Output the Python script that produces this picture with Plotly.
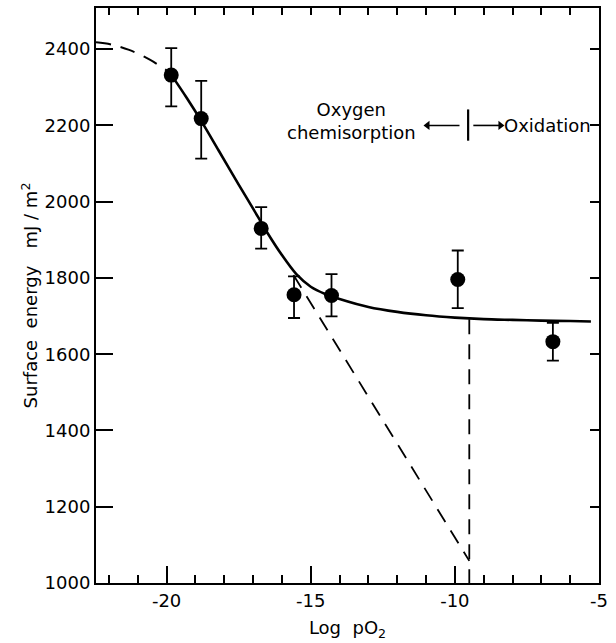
import plotly.graph_objects as go

# measured points
pt_x = [-19.84, -18.8, -16.72, -15.58, -14.28, -9.9, -6.6]
pt_y = [2332, 2218, 1930, 1756, 1754, 1796, 1633]
err_hi = [2403, 2317, 1986, 1804, 1810, 1872, 1682]
err_lo = [2250, 2113, 1877, 1695, 1699, 1721, 1583]

# fitted curve (solid)
fit_x = [-19.83, -19.3, -18.8, -18.2, -17.5, -17.0, -16.5, -16.0, -15.5, -15.0,
         -14.5, -14.0, -13.0, -12.0, -11.0, -10.0, -9.0, -8.0, -7.0, -6.0, -5.28]
fit_y = [2332, 2272, 2212, 2135, 2045, 1982, 1918, 1860, 1810, 1777,
         1758, 1745, 1724, 1711, 1702, 1696, 1692, 1690, 1688, 1687, 1686]

# extrapolated low-pressure part (dashed)
ext_x = [-22.45, -21.9, -21.3, -20.6, -20.0, -19.83]
ext_y = [2418, 2412, 2398, 2373, 2344, 2332]

# tangent extrapolation (dashed)
tan_x = [-15.6, -9.5]
tan_y = [1808, 1058]

# boundary chemisorption / oxidation
bnd_x = [-9.5, -9.5]
bnd_y = [1692, 1000]

# arrows in the annotation
arrow_y = 2200
left_arrow_x = [-9.84, -10.95]
right_arrow_x = [-9.36, -8.42]
bar_x = -9.54
bar_y = [2160, 2242]

x_range = [-22.45, -5]
y_range = [1000, 2508]
y_ticks = [1000, 1200, 1400, 1600, 1800, 2000, 2200, 2400]
x_ticks = [-20, -15, -10, -5]
x_ticktext = ["-20", "-15", "-10", "-5"]

FONT = "DejaVu Sans"
dash = "15px,10px"

fig = go.Figure()
fig.add_trace(go.Scatter(x=ext_x, y=ext_y, mode="lines",
                         line=dict(color="black", width=2, dash=dash, shape="spline")))
fig.add_trace(go.Scatter(x=fit_x, y=fit_y, mode="lines",
                         line=dict(color="black", width=2.6, shape="spline", smoothing=0.8)))
fig.add_trace(go.Scatter(x=tan_x, y=tan_y, mode="lines",
                         line=dict(color="black", width=1.8, dash=dash)))
fig.add_trace(go.Scatter(x=bnd_x, y=bnd_y, mode="lines",
                         line=dict(color="black", width=1.8, dash=dash)))
fig.add_trace(go.Scatter(
    x=pt_x, y=pt_y, mode="markers",
    marker=dict(color="black", size=15),
    error_y=dict(type="data", symmetric=False,
                 array=[h - y for h, y in zip(err_hi, pt_y)],
                 arrayminus=[y - l for y, l in zip(pt_y, err_lo)],
                 color="black", thickness=1.8, width=6)))
# arrows
fig.add_trace(go.Scatter(x=left_arrow_x, y=[arrow_y] * 2, mode="lines",
                         line=dict(color="black", width=1.6)))
fig.add_trace(go.Scatter(x=right_arrow_x, y=[arrow_y] * 2, mode="lines",
                         line=dict(color="black", width=1.6)))
fig.add_trace(go.Scatter(x=[left_arrow_x[1], right_arrow_x[1]], y=[arrow_y] * 2, mode="markers",
                         marker=dict(color="black", size=8,
                                     symbol=["triangle-left", "triangle-right"])))
fig.add_trace(go.Scatter(x=[bar_x, bar_x], y=bar_y, mode="lines",
                         line=dict(color="black", width=2.2)))
fig.add_trace(go.Scatter(x=[], y=[], xaxis="x2", yaxis="y2", mode="markers"))

fig.update_layout(
    width=616, height=643,
    margin=dict(l=96, r=13, t=8, b=60),
    paper_bgcolor="white", plot_bgcolor="white",
    showlegend=False,
    font=dict(family=FONT, size=18, color="black"),
    xaxis=dict(range=x_range, tickvals=x_ticks, ticktext=x_ticktext,
               ticks="inside", ticklen=17, tickwidth=1.8, tickcolor="black",
               minor=dict(ticks="inside", ticklen=8, dtick=1, tick0=0, tickwidth=1.8, tickcolor="black"),
               showline=True, linecolor="black", linewidth=2, showgrid=False, zeroline=False,
               title=dict(text="Log  pO<sub>2</sub>", standoff=12, font=dict(size=18)),
               tickfont=dict(size=18)),
    yaxis=dict(range=y_range, tickvals=y_ticks,
               ticks="inside", ticklen=17, tickwidth=1.8, tickcolor="black",
               showline=True, linecolor="black", linewidth=2, showgrid=False, zeroline=False,
               title=dict(text="Surface  energy   mJ / m<sup>2</sup>", standoff=2, font=dict(size=18)),
               tickfont=dict(size=18)),
    xaxis2=dict(range=x_range, overlaying="x", side="top", showticklabels=False,
                tickmode="linear", tick0=0, dtick=1, ticks="inside", ticklen=7, tickwidth=1.8,
                tickcolor="black", showline=True, linecolor="black", linewidth=2,
                showgrid=False, zeroline=False),
    yaxis2=dict(range=y_range, overlaying="y", side="right", showticklabels=False,
                tickvals=y_ticks, ticks="inside", ticklen=9, tickwidth=1.8,
                tickcolor="black", showline=True, linecolor="black", linewidth=2,
                showgrid=False, zeroline=False),
)

fig.add_annotation(x=-13.6, y=2212, text="Oxygen<br>chemisorption", showarrow=False,
                   font=dict(size=18), align="center")
fig.add_annotation(x=-8.35, y=arrow_y, text="Oxidation", showarrow=False,
                   xanchor="left", font=dict(size=18))

fig.write_html("out.html", config={"displayModeBar": False},
               post_script="document.body.style.margin='0';")
